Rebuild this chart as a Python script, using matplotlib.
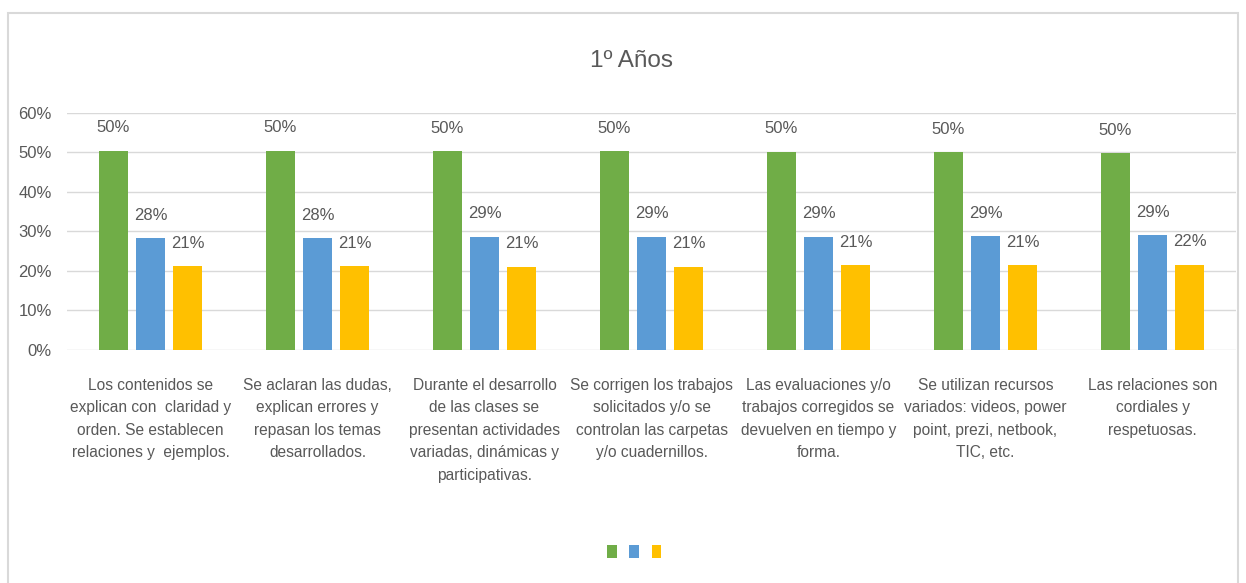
import numpy as np
import matplotlib
matplotlib.use("Agg")
import matplotlib.pyplot as plt
from matplotlib.patches import Rectangle, Patch

plt.rcParams['font.family'] = ['Liberation Sans', 'DejaVu Sans']

categorias = [
    "Los contenidos se\nexplican con  claridad y\norden. Se establecen\nrelaciones y  ejemplos.",
    "Se aclaran las dudas,\nexplican errores y\nrepasan los temas\ndesarrollados.",
    "Durante el desarrollo\nde las clases se\npresentan actividades\nvariadas, dinámicas y\nparticipativas.",
    "Se corrigen los trabajos\nsolicitados y/o se\ncontrolan las carpetas\ny/o cuadernillos.",
    "Las evaluaciones y/o\ntrabajos corregidos se\ndevuelven en tiempo y\nforma.",
    "Se utilizan recursos\nvariados: videos, power\npoint, prezi, netbook,\nTIC, etc.",
    "Las relaciones son\ncordiales y\nrespetuosas.",
]
serie_verde = [0.505, 0.505, 0.503, 0.503, 0.502, 0.500, 0.499]
serie_azul = [0.284, 0.284, 0.287, 0.287, 0.287, 0.288, 0.290]
serie_amarilla = [0.212, 0.212, 0.211, 0.211, 0.214, 0.214, 0.216]
yticks = [0, 0.1, 0.2, 0.3, 0.4, 0.5, 0.6]

colores = ['#70ad47', '#5b9bd5', '#ffc000']
texto = '#595959'

fig = plt.figure(figsize=(12.46, 5.83), dpi=100)
ax = fig.add_axes([0.0538, 0.3997, 0.9382, 0.4065])

x = np.arange(len(categorias))
ancho = 0.174
paso = 0.222
series = [serie_verde, serie_azul, serie_amarilla]
for i, (vals, col) in enumerate(zip(series, colores)):
    pos = x + (i - 1) * paso
    ax.bar(pos, vals, width=ancho, color=col, zorder=3)
    for px, v in zip(pos, vals):
        ax.annotate(f"{round(v * 100):.0f}%", (px, v), xytext=(0, 11),
                    textcoords='offset points', ha='center', va='bottom',
                    fontsize=12, color=texto)

ax.set_xlim(-0.5, len(categorias) - 0.5)
ax.set_ylim(0, 0.6)
ax.set_yticks(yticks)
ax.set_yticklabels([f"{int(round(t * 100))}%" for t in yticks], fontsize=12, color=texto)
ax.set_xticks(x)
ax.set_xticklabels(categorias, fontsize=11.2, color=texto, linespacing=1.62, va='top')
ax.tick_params(axis='both', length=0)
ax.tick_params(axis='y', pad=11)
ax.tick_params(axis='x', pad=20)
ax.yaxis.grid(True, color='#d9d9d9', linewidth=1, zorder=0)
ax.set_axisbelow(True)
for s in ax.spines.values():
    s.set_visible(False)

fig.text(0.507, 0.895, "1º Años", ha='center', va='center', fontsize=17.5, color=texto)

handles = [Patch(facecolor=c) for c in colores]
fig.legend(handles, ['', '', ''], ncol=3, loc='center', bbox_to_anchor=(0.509, 0.053),
           frameon=False, handlelength=0.7, handleheight=1.0, columnspacing=0.9,
           handletextpad=0.0)

# marco del grafico
fig.patches.append(Rectangle((8 / 1246, -0.05), 1230 / 1246, 1 - 13 / 583 + 0.05,
                             transform=fig.transFigure, fill=False,
                             edgecolor='#d9d9d9', linewidth=1.5))

fig.savefig("out.png", dpi=100)
